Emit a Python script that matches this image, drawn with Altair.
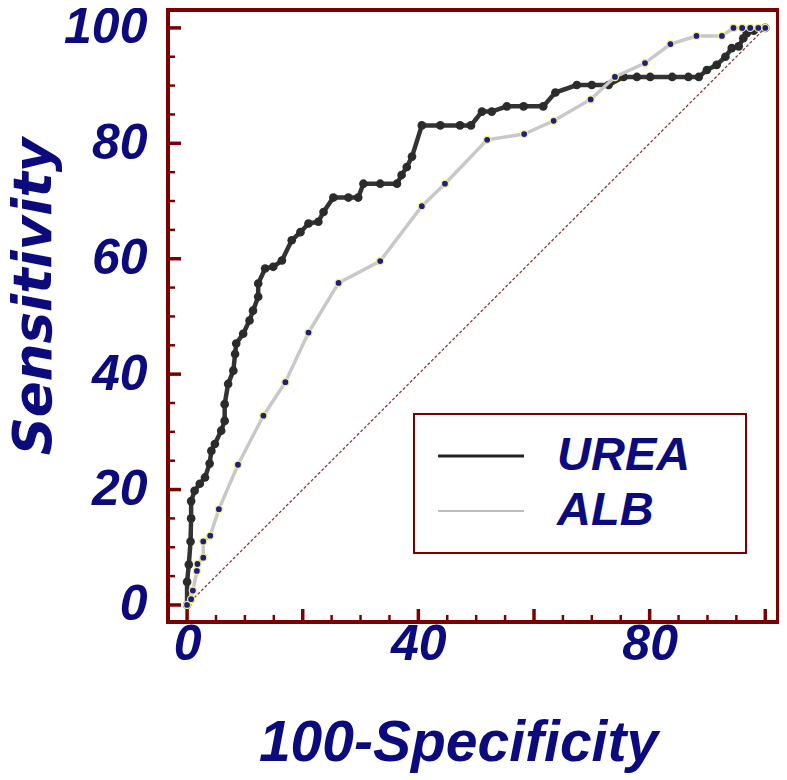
import altair as alt
import pandas as pd

# ---------------- data ----------------
series = ["UREA", "ALB"]
series_colors = ["#333333", "#c8c8c8"]

urea_x = [0, 0, 0.3, 0.6, 0.7, 0.7, 1.3, 2.2, 3.1, 3.9, 4.2, 4.8, 5.9, 6.5, 6.5, 7.1, 8.0, 8.3,
          8.5, 9.7, 10.8, 11.4, 12.3, 12.3, 13.5, 14.9, 16.4, 18.1, 19.6, 21.0, 22.7, 23.6, 25.3,
          27.9, 29.6, 30.5, 33.4, 36.3, 37.1, 38.0, 38.9, 40.6, 43.8, 47.2, 49.1, 51.0, 52.7,
          55.3, 58.2, 61.6, 63.7, 67.4, 70.0, 72.9, 75.5, 77.8, 80.1, 83.9, 86.7, 88.5, 89.9,
          91.6, 93.1, 94.2, 95.4, 96.2, 96.8, 98.0, 100]
urea_y = [0, 4.0, 7.0, 11.0, 15.0, 18.0, 19.8, 21.0, 22.1, 24.5, 26.7, 27.9, 30.2, 31.9, 34.8,
          38.3, 40.6, 43.5, 45.3, 47.0, 49.3, 51.0, 53.4, 55.7, 58.3, 58.6, 59.7, 63.2, 64.6, 66.1,
          66.4, 68.1, 70.6, 70.6, 70.6, 73.0, 73.0, 73.0, 74.5, 75.9, 77.7, 83.1, 83.1, 83.1,
          83.1, 85.5, 85.5, 86.4, 86.4, 86.4, 88.8, 90.1, 90.1, 90.1, 91.5, 91.5, 91.5, 91.5,
          91.5, 91.5, 92.7, 93.6, 95.0, 96.5, 96.8, 98.2, 99.1, 99.5, 100]

alb_x = [0, 0.7, 1.0, 1.7, 1.8, 2.8, 2.8, 4.0, 5.5, 8.8, 13.2, 17.0, 21.0, 26.2, 33.4, 40.6,
         44.6, 51.9, 58.3, 63.4, 69.8, 74.0, 79.2, 83.6, 88.1, 92.5, 94.5, 96.0, 97.4, 98.8, 100]
alb_y = [0, 1.0, 2.5, 5.9, 7.1, 8.2, 11.0, 12.0, 16.6, 24.3, 32.8, 38.6, 47.2, 55.8, 59.6, 69.1,
         73.0, 80.6, 81.6, 83.9, 87.6, 91.5, 93.9, 97.2, 98.6, 98.6, 100, 100, 100, 100, 100]

diag = [0, 100]
y_label_values = [0, 20, 40, 60, 80, 100]
x_label_values = [0, 40, 80]
major_ticks = [0, 20, 40, 60, 80, 100]
minor_ticks = [v for v in range(0, 101, 5) if v % 20 != 0]

# ---------------- styling ----------------
W, H = 610, 612
FRAME = "#7d0000"
TEXT = "#0b0b7d"
FONT = "Liberation Sans"

xs = alt.Scale(domain=[-3.3, 102.2], nice=False, zero=False)
ys = alt.Scale(domain=[-2.95, 103.1], nice=False, zero=False)

urea_df = pd.DataFrame({"x": urea_x, "y": urea_y})
alb_df = pd.DataFrame({"x": alb_x, "y": alb_y})
diag_df = pd.DataFrame({"x": diag, "y": diag})
major_df = pd.DataFrame({"x": major_ticks, "y": major_ticks})
minor_df = pd.DataFrame({"x": minor_ticks, "y": minor_ticks})

x_axis = alt.Axis(values=x_label_values, ticks=False, domain=False, grid=False,
                  labelFont=FONT, labelFontSize=50, labelFontStyle="italic",
                  labelFontWeight="bold", labelColor=TEXT, labelPadding=-3,
                  title="100-Specificity", titleFont=FONT, titleFontSize=57,
                  titleFontStyle="italic", titleFontWeight="bold", titleColor=TEXT,
                  titleX=290, titleY=121, titleBaseline="middle", titleAlign="center")
y_axis = alt.Axis(values=y_label_values, ticks=False, domain=False, grid=False,
                  labelFont=FONT, labelFontSize=50, labelFontStyle="italic",
                  labelFontWeight="bold", labelColor=TEXT, labelPadding=21,
                  title="Sensitivity", titleFont="DejaVu Sans", titleFontSize=53,
                  titleFontStyle="italic", titleFontWeight="bold", titleColor=TEXT,
                  titleX=-134, titleY=286, titleAngle=270, titleBaseline="middle",
                  titleAlign="center")

X = alt.X("x:Q", scale=xs, axis=x_axis)
Y = alt.Y("y:Q", scale=ys, axis=y_axis)

diag_layer = alt.Chart(diag_df).mark_line(color="#8b3a3a", strokeWidth=1.3,
                                          strokeDash=[3, 2]).encode(x=X, y=Y)

urea_line = alt.Chart(urea_df).mark_line(color=series_colors[0], strokeWidth=4.5).encode(x=X, y=Y)
urea_pts = alt.Chart(urea_df).mark_circle(color="#2b2b2b", size=75, opacity=1).encode(x=X, y=Y)

alb_line = alt.Chart(alb_df).mark_line(color=series_colors[1], strokeWidth=3.5).encode(x=X, y=Y)
alb_pts = alt.Chart(alb_df).mark_point(filled=True, fill="#1c1c8c", stroke="#f2f27a",
                                       strokeWidth=1.3, size=50, opacity=1).encode(x=X, y=Y)

# inward ticks
left_major = alt.Chart(major_df).mark_rule(color=FRAME, strokeWidth=3.5).encode(
    y=Y, x=alt.value(0), x2=alt.value(13))
left_minor = alt.Chart(minor_df).mark_rule(color=FRAME, strokeWidth=2.5).encode(
    y=Y, x=alt.value(0), x2=alt.value(7))
bot_major = alt.Chart(major_df).mark_rule(color=FRAME, strokeWidth=3.5).encode(
    x=X, y=alt.value(H), y2=alt.value(H - 13))
bot_minor = alt.Chart(minor_df).mark_rule(color=FRAME, strokeWidth=2.5).encode(
    x=X, y=alt.value(H), y2=alt.value(H - 7))

# legend
one = alt.Data(values=[{"k": 1}])
legend_layers = [
    alt.Chart(one).mark_rect(fill="white", stroke=FRAME, strokeWidth=2).encode(
        x=alt.value(246), x2=alt.value(578), y=alt.value(404), y2=alt.value(543))
]
leg_line_colors = ["#222222", "#bdbdbd"]
leg_line_widths = [3, 2]
for i, name in enumerate(series):
    row_y = 446 + 55 * i
    legend_layers.append(
        alt.Chart(one).mark_rule(color=leg_line_colors[i], strokeWidth=leg_line_widths[i]).encode(
            x=alt.value(270), x2=alt.value(356), y=alt.value(row_y)))
    legend_layers.append(
        alt.Chart(one).mark_text(text=name, font=FONT, fontSize=47, fontStyle="italic",
                                 fontWeight="bold", color=TEXT, align="left",
                                 baseline="middle").encode(
            x=alt.value(389), y=alt.value(row_y)))

chart = alt.layer(
    diag_layer, urea_line, urea_pts, alb_line, alb_pts,
    left_major, left_minor, bot_major, bot_minor, *legend_layers
).properties(
    width=W, height=H,
    autosize=alt.AutoSizeParams(type="none"),
    padding={"left": 160, "top": 2, "right": 1, "bottom": 158},
).configure_view(stroke=FRAME, strokeWidth=4)

chart.save("out.html", embed_options={"renderer": "svg", "actions": False})
